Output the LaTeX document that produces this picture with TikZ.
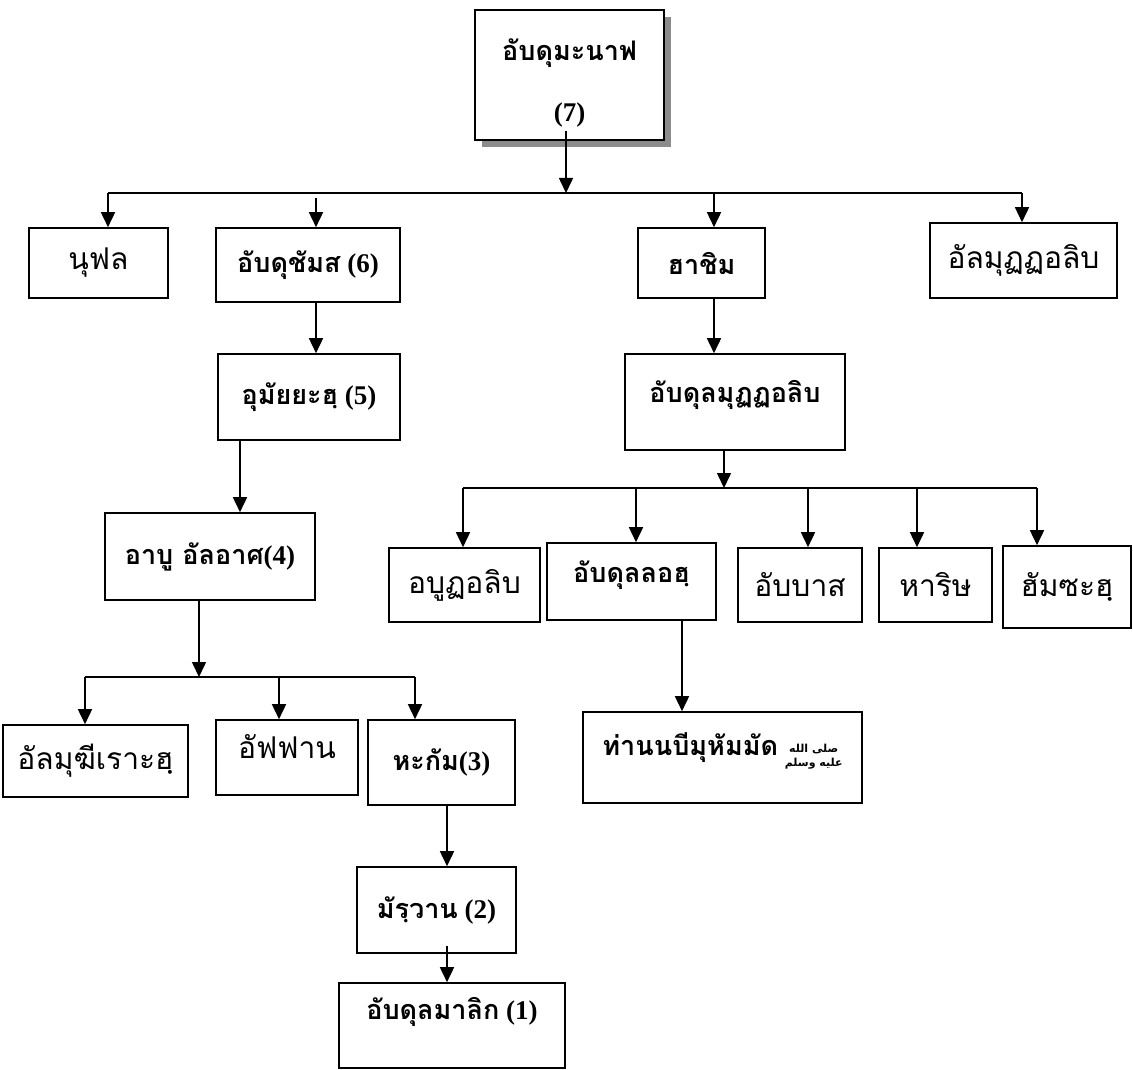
\documentclass[tikz,border=0pt]{standalone}
\usepackage{fontspec}
\setmainfont{Liberation Serif}
\newfontfamily\thaifont[Script=Thai,Scale=1.0]{Loma}
\newfontfamily\arabicfont[Script=Arabic]{DejaVu Sans}
\TeXXeTstate=1
\usetikzlibrary{arrows.meta,shadows}
\newcommand{\tha}[1]{{\thaifont #1}}
% salawat sign, set as its words in two small rows
\newcommand{\salawat}{\raisebox{-4pt}{\arabicfont\bfseries\fontsize{11}{11}\selectfont
	\begin{tabular}{@{}c@{}}\beginR صلى الله\endR\\[2pt]\beginR عليه وسلم\endR\end{tabular}}}

\begin{document}
\begin{tikzpicture}[x=1pt, y=-1pt, line width=1.6pt,
	box/.style={draw, rectangle, fill=white, inner sep=0pt, font=\fontsize{30}{34}\selectfont},
	bbox/.style={box, font=\fontsize{27}{31}\selectfont\bfseries},
	wh/.style 2 args={minimum width=#1pt, minimum height=#2pt},
	lift/.style={text depth=#1},
	arr/.style={-{Triangle[width=14pt,length=15pt]}}]

	\useasboundingbox (0,0) rectangle (1133,1070);

	% top
	\node[box, wh={189}{130}, drop shadow={shadow xshift=7pt, shadow yshift=-7pt, fill=black!45, opacity=1}] (abdmanaf) at (569.5,75) {};
	\node[font=\fontsize{27}{31}\selectfont\bfseries, align=center, inner sep=0pt] (abdmanafname) at ([yshift=-8pt]abdmanaf.center) {\tha{อับดุมะนาฟ}\\[30pt](7)};

	% level 1
	\node[box, wh={139}{70}] (nufal) at (98.5,263) {\tha{นุฟล}};
	\node[bbox, wh={184}{74}] (abdshams) at (308,265) {\tha{อับดุชัมส} (6)};
	\node[bbox, wh={127}{70}] (hashim) at (701.5,263) {\tha{ฮาชิม}};
	\node[box, wh={187}{75}] (muttalib) at (1023.5,260.5) {\tha{อัลมุฏฏอลิบ}};

	% left branch
	\node[bbox, wh={182}{86}] (umayyah) at (309,397) {\tha{อุมัยยะฮฺ} (5)};
	\node[bbox, wh={210}{87}] (abulas) at (210,556.5) {\tha{อาบู อัลอาศ}(4)};
	\node[box, wh={185}{72}] (mughirah) at (95.5,761) {\tha{อัลมุฆีเราะฮฺ}};
	\node[box, wh={142}{75}, lift=22pt] (affan) at (287,757.5) {\tha{อัฟฟาน}};
	\node[bbox, wh={147}{85}] (hakam) at (441.5,762.5) {\tha{หะกัม}(3)};
	\node[bbox, wh={159}{86}] (marwan) at (436.5,910) {\tha{มัรฺวาน} (2)};
	\node[bbox, wh={226}{85}, lift=34pt] (malik) at (452,1025.5) {\tha{อับดุลมาลิก} (1)};

	% right branch
	\node[bbox, wh={220}{96}, lift=22pt] (abdmuttalib) at (735,402) {\tha{อับดุลมุฏฏอลิบ}};
	\node[box, wh={151}{74}] (abutalib) at (464.5,585) {\tha{อบูฏอลิบ}};
	\node[bbox, wh={169}{77}, lift=20pt] (abdullah) at (631.5,581.5) {\tha{อับดุลลอฮฺ}};
	\node[box, wh={124}{74}] (abbas) at (800,585) {\tha{อับบาส}};
	\node[box, wh={113}{74}] (harith) at (935.5,585) {\tha{หาริษ}};
	\node[box, wh={128}{82}] (hamzah) at (1067,587) {\tha{ฮัมซะฮฺ}};
	\node[bbox, wh={279}{91}, lift=26pt] (nabi) at (722.5,757.5) {\tha{ท่านนบีมุหัมมัด} \salawat};

	% buses
	\coordinate (b1l) at (108,193);
	\coordinate (b1r) at (1022,193);
	\coordinate (b2l) at (463,488);
	\coordinate (b2r) at (1037,488);
	\coordinate (b3l) at (85,677);
	\coordinate (b3r) at (415,677);
	\draw[line width=1.3pt] (b1l) -- (b1r);
	\draw[line width=1.3pt] (b2l) -- (b2r);
	\draw[line width=1.3pt] (b3l) -- (b3r);

	\draw[arr] ([xshift=-3.5pt,yshift=10pt]abdmanaf.south) -- ([xshift=-3.5pt]abdmanaf.south |- b1l);
	\draw[arr] (b1l) -- ([xshift=9.5pt]nufal.north);
	\draw[arr] ([xshift=8pt,yshift=-5pt]abdshams.north |- b1l) -- ([xshift=8pt]abdshams.north);
	\draw[arr] ([xshift=12.5pt]hashim.north |- b1l) -- ([xshift=12.5pt]hashim.north);
	\draw[arr] (b1r) -- ([xshift=-1.5pt]muttalib.north);

	\draw[arr] ([xshift=8pt]abdshams.south) -- ([xshift=7pt]umayyah.north);
	\draw[arr] ([xshift=-69pt]umayyah.south) -- ([xshift=30pt]abulas.north);
	\draw[arr] ([xshift=-11pt]abulas.south) -- ([xshift=-11pt]abulas.south |- b3l);
	\draw[arr] (b3l) -- ([xshift=-10.5pt]mughirah.north);
	\draw[arr] ([xshift=-8pt]affan.north |- b3l) -- ([xshift=-8pt]affan.north);
	\draw[arr] (b3r) -- ([xshift=-26.5pt]hakam.north);
	\draw[arr] ([xshift=5.5pt]hakam.south) -- ([xshift=10.5pt]marwan.north);
	\draw[arr] ([xshift=10.5pt,yshift=8pt]marwan.south) -- ([xshift=-5pt]malik.north);

	\draw[arr] ([xshift=12.5pt]hashim.south) -- ([xshift=-21pt]abdmuttalib.north);
	\draw[arr] ([xshift=-11pt]abdmuttalib.south) -- ([xshift=-11pt]abdmuttalib.south |- b2l);
	\draw[arr] (b2l) -- ([xshift=-1.5pt]abutalib.north);
	\draw[arr] ([xshift=4.5pt]abdullah.north |- b2l) -- ([xshift=4.5pt]abdullah.north);
	\draw[arr] ([xshift=8pt]abbas.north |- b2l) -- ([xshift=8pt]abbas.north);
	\draw[arr] ([xshift=-18.5pt]harith.north |- b2l) -- ([xshift=-18.5pt]harith.north);
	\draw[arr] (b2r) -- ([xshift=-30pt]hamzah.north);
	\draw[arr] ([xshift=50.5pt]abdullah.south) -- ([xshift=-40.5pt]nabi.north);

\end{tikzpicture}
\end{document}
